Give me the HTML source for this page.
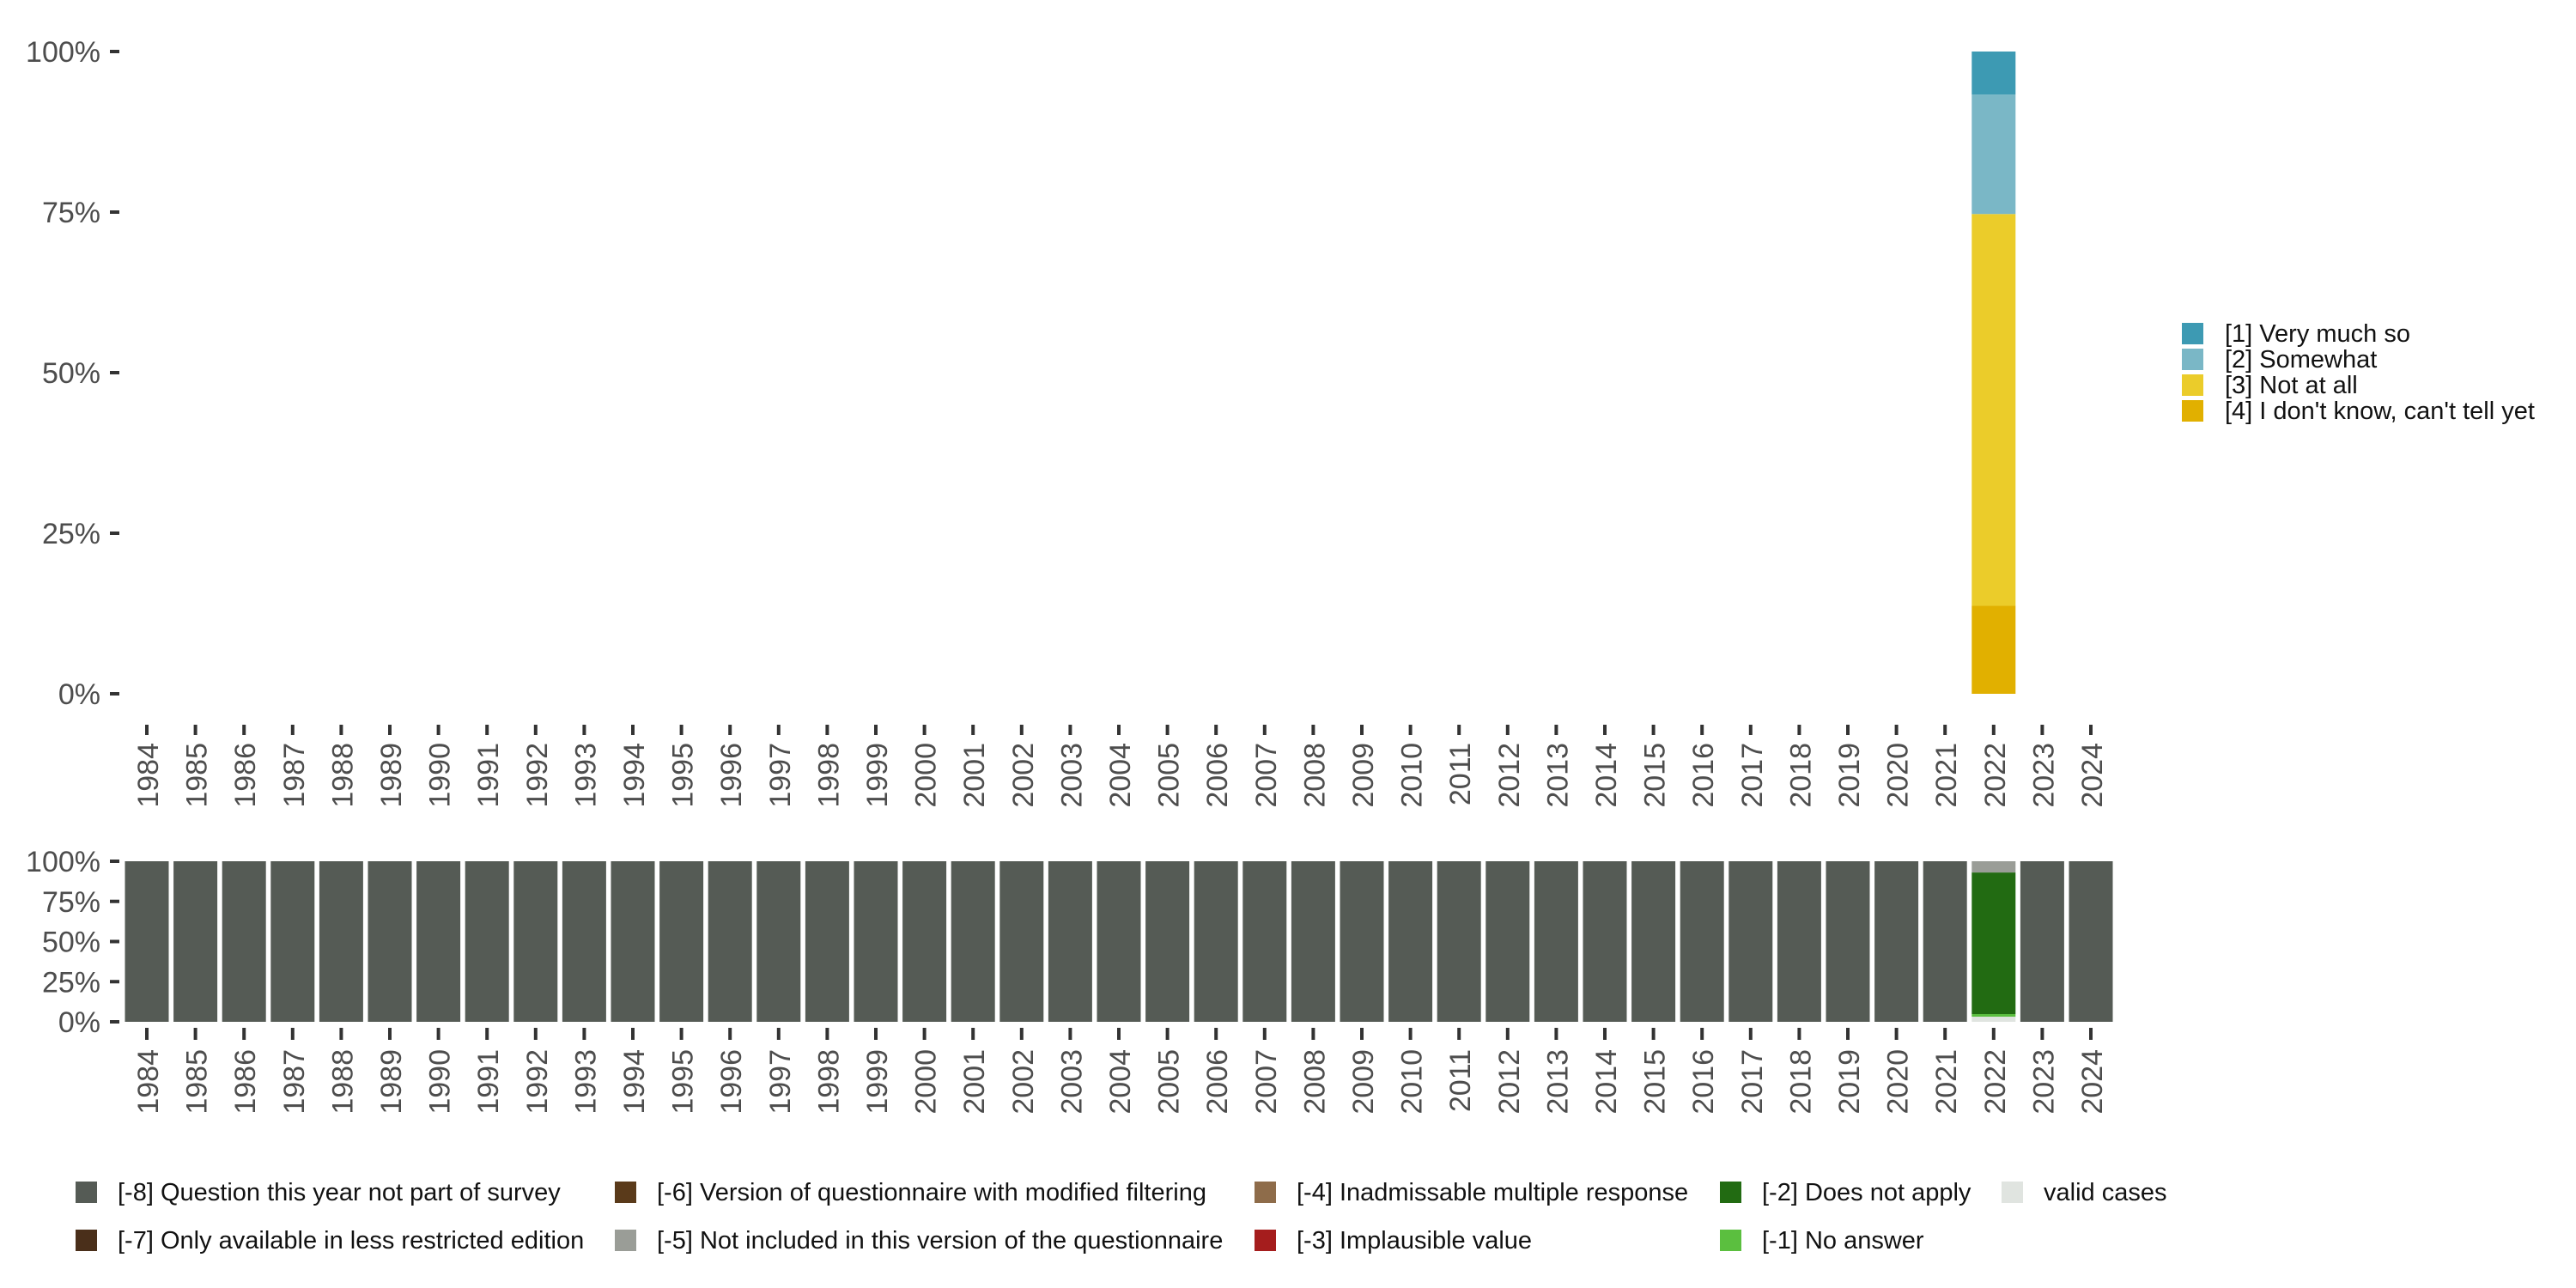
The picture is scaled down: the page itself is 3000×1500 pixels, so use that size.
<!DOCTYPE html>
<html><head><meta charset="utf-8"><style>
html,body{margin:0;padding:0;background:#fff;}
svg{display:block;font-family:"Liberation Sans",sans-serif;}
</style></head><body>
<svg id="chart" width="3000" height="1500" viewBox="0 0 3000 1500" xmlns="http://www.w3.org/2000/svg">
<g id="top"></g>
<g id="bottom"></g>
<g id="legR"></g>
<g id="legB"></g>
</svg>
<script>
const years = [];
for (let y = 1984; y <= 2024; y++) years.push(y);
const yTicks = [0, 25, 50, 75, 100];
const yTickLabels = ["0%", "25%", "50%", "75%", "100%"];
// top panel: valid responses (percent), bottom to top
const respYear = [2022];
const respLabels = ["[4] I don't know, can't tell yet", "[3] Not at all", "[2] Somewhat", "[1] Very much so"];
const respColors = ["#e1b000", "#ebcc2a", "#7ab7c6", "#3d9ab3"];
const respValues = [[13.7, 61.0, 18.6, 6.7]];
// bottom panel: missing categories, bottom to top
const missLabels = ["valid cases", "[-1] No answer", "[-2] Does not apply", "[-3] Implausible value", "[-4] Inadmissable multiple response", "[-5] Not included in this version of the questionnaire", "[-6] Version of questionnaire with modified filtering", "[-7] Only available in less restricted edition", "[-8] Question this year not part of survey"];
const missColors = ["#e0e4e0", "#5bbf3f", "#226b12", "#a51d1d", "#8e6c4a", "#9a9d97", "#5a3a1a", "#4a2f1a", "#555b55"];
const missYear2022 = [3.2, 1.6, 88.2, 0, 0, 7.0, 0, 0, 0];
const missOther = [0, 0, 0, 0, 0, 0, 0, 0, 100];

const NS = "http://www.w3.org/2000/svg";
function mk(tag, attrs, parent) {
  const e = document.createElementNS(NS, tag);
  for (const k in attrs) e.setAttribute(k, attrs[k]);
  parent.appendChild(e);
  return e;
}
const x0 = 171, pitch = 56.6, barW = 51;
function xScale(yr) { return x0 + (yr - 1984) * pitch; }
function yTop(v) { return 808 - v / 100 * 748; }
function yBot(v) { return 1190 - v / 100 * 187; }

function axes(g, yS, tickY1, tickY2, labY, prefix) {
  yTicks.forEach((t, i) => {
    const y = yS(t);
    const tk = mk("rect", {x: 128, y: y - 2, width: 11, height: 4, fill: "#333"}, g);
    
    
    const tx = mk("text", {x: 117, y: y + 12, "text-anchor": "end", "font-size": 34, fill: "#4d4d4d"}, g);
    tx.textContent = yTickLabels[i];
    
    
  });
  years.forEach(yr => {
    const x = xScale(yr);
    const tk = mk("rect", {x: x - 2, y: tickY1, width: 4, height: tickY2 - tickY1, fill: "#333"}, g);
    
    
    const tx = mk("text", {x: 0, y: 0, "text-anchor": "end", "font-size": 34, fill: "#4d4d4d", transform: `translate(${x + 13},${labY}) rotate(-90)`}, g);
    tx.textContent = yr;
    
    
  });
}

const gT = document.getElementById("top");
axes(gT, yTop, 844, 856, 865, "top");
respYear.forEach((yr, i) => {
  let cum = 0;
  respValues[i].forEach((v, k) => {
    const r = mk("rect", {x: xScale(yr) - barW / 2, y: yTop(cum + v), width: barW, height: yTop(cum) - yTop(cum + v), fill: respColors[k]}, gT);
    
    
    cum += v;
  });
});

const gB = document.getElementById("bottom");
axes(gB, yBot, 1197, 1211, 1222, "bottom");
years.forEach(yr => {
  const vals = yr === 2022 ? missYear2022 : missOther;
  let cum = 0;
  vals.forEach((v, k) => {
    if (v <= 0) return;
    const r = mk("rect", {x: xScale(yr) - barW / 2, y: yBot(cum + v), width: barW, height: yBot(cum) - yBot(cum + v), fill: missColors[k]}, gB);
    
    
    cum += v;
  });
});

const gR = document.getElementById("legR");
for (let i = 0; i < 4; i++) {
  const k = 3 - i;
  const y = 376 + i * 30;
  const s = mk("rect", {x: 2541, y: y, width: 25, height: 25, fill: respColors[k]}, gR);
  
  
  const t = mk("text", {x: 2591, y: y + 22, "font-size": 29, fill: "#111"}, gR);
  t.textContent = respLabels[k];
  
  
}

const gL = document.getElementById("legB");
const legOrder = [8, 7, 6, 5, 4, 3, 2, 1, 0];
const colX = [88, 716, 1461, 2003, 2331];
legOrder.forEach((k, i) => {
  const col = Math.floor(i / 2), row = i % 2;
  const x = colX[col], y = 1376 + row * 56;
  const s = mk("rect", {x: x, y: y, width: 25, height: 25, fill: missColors[k]}, gL);
  
  
  const t = mk("text", {x: x + 49, y: y + 22, "font-size": 29, fill: "#111"}, gL);
  t.textContent = missLabels[k];
  
  
});
</script>
</body></html>
